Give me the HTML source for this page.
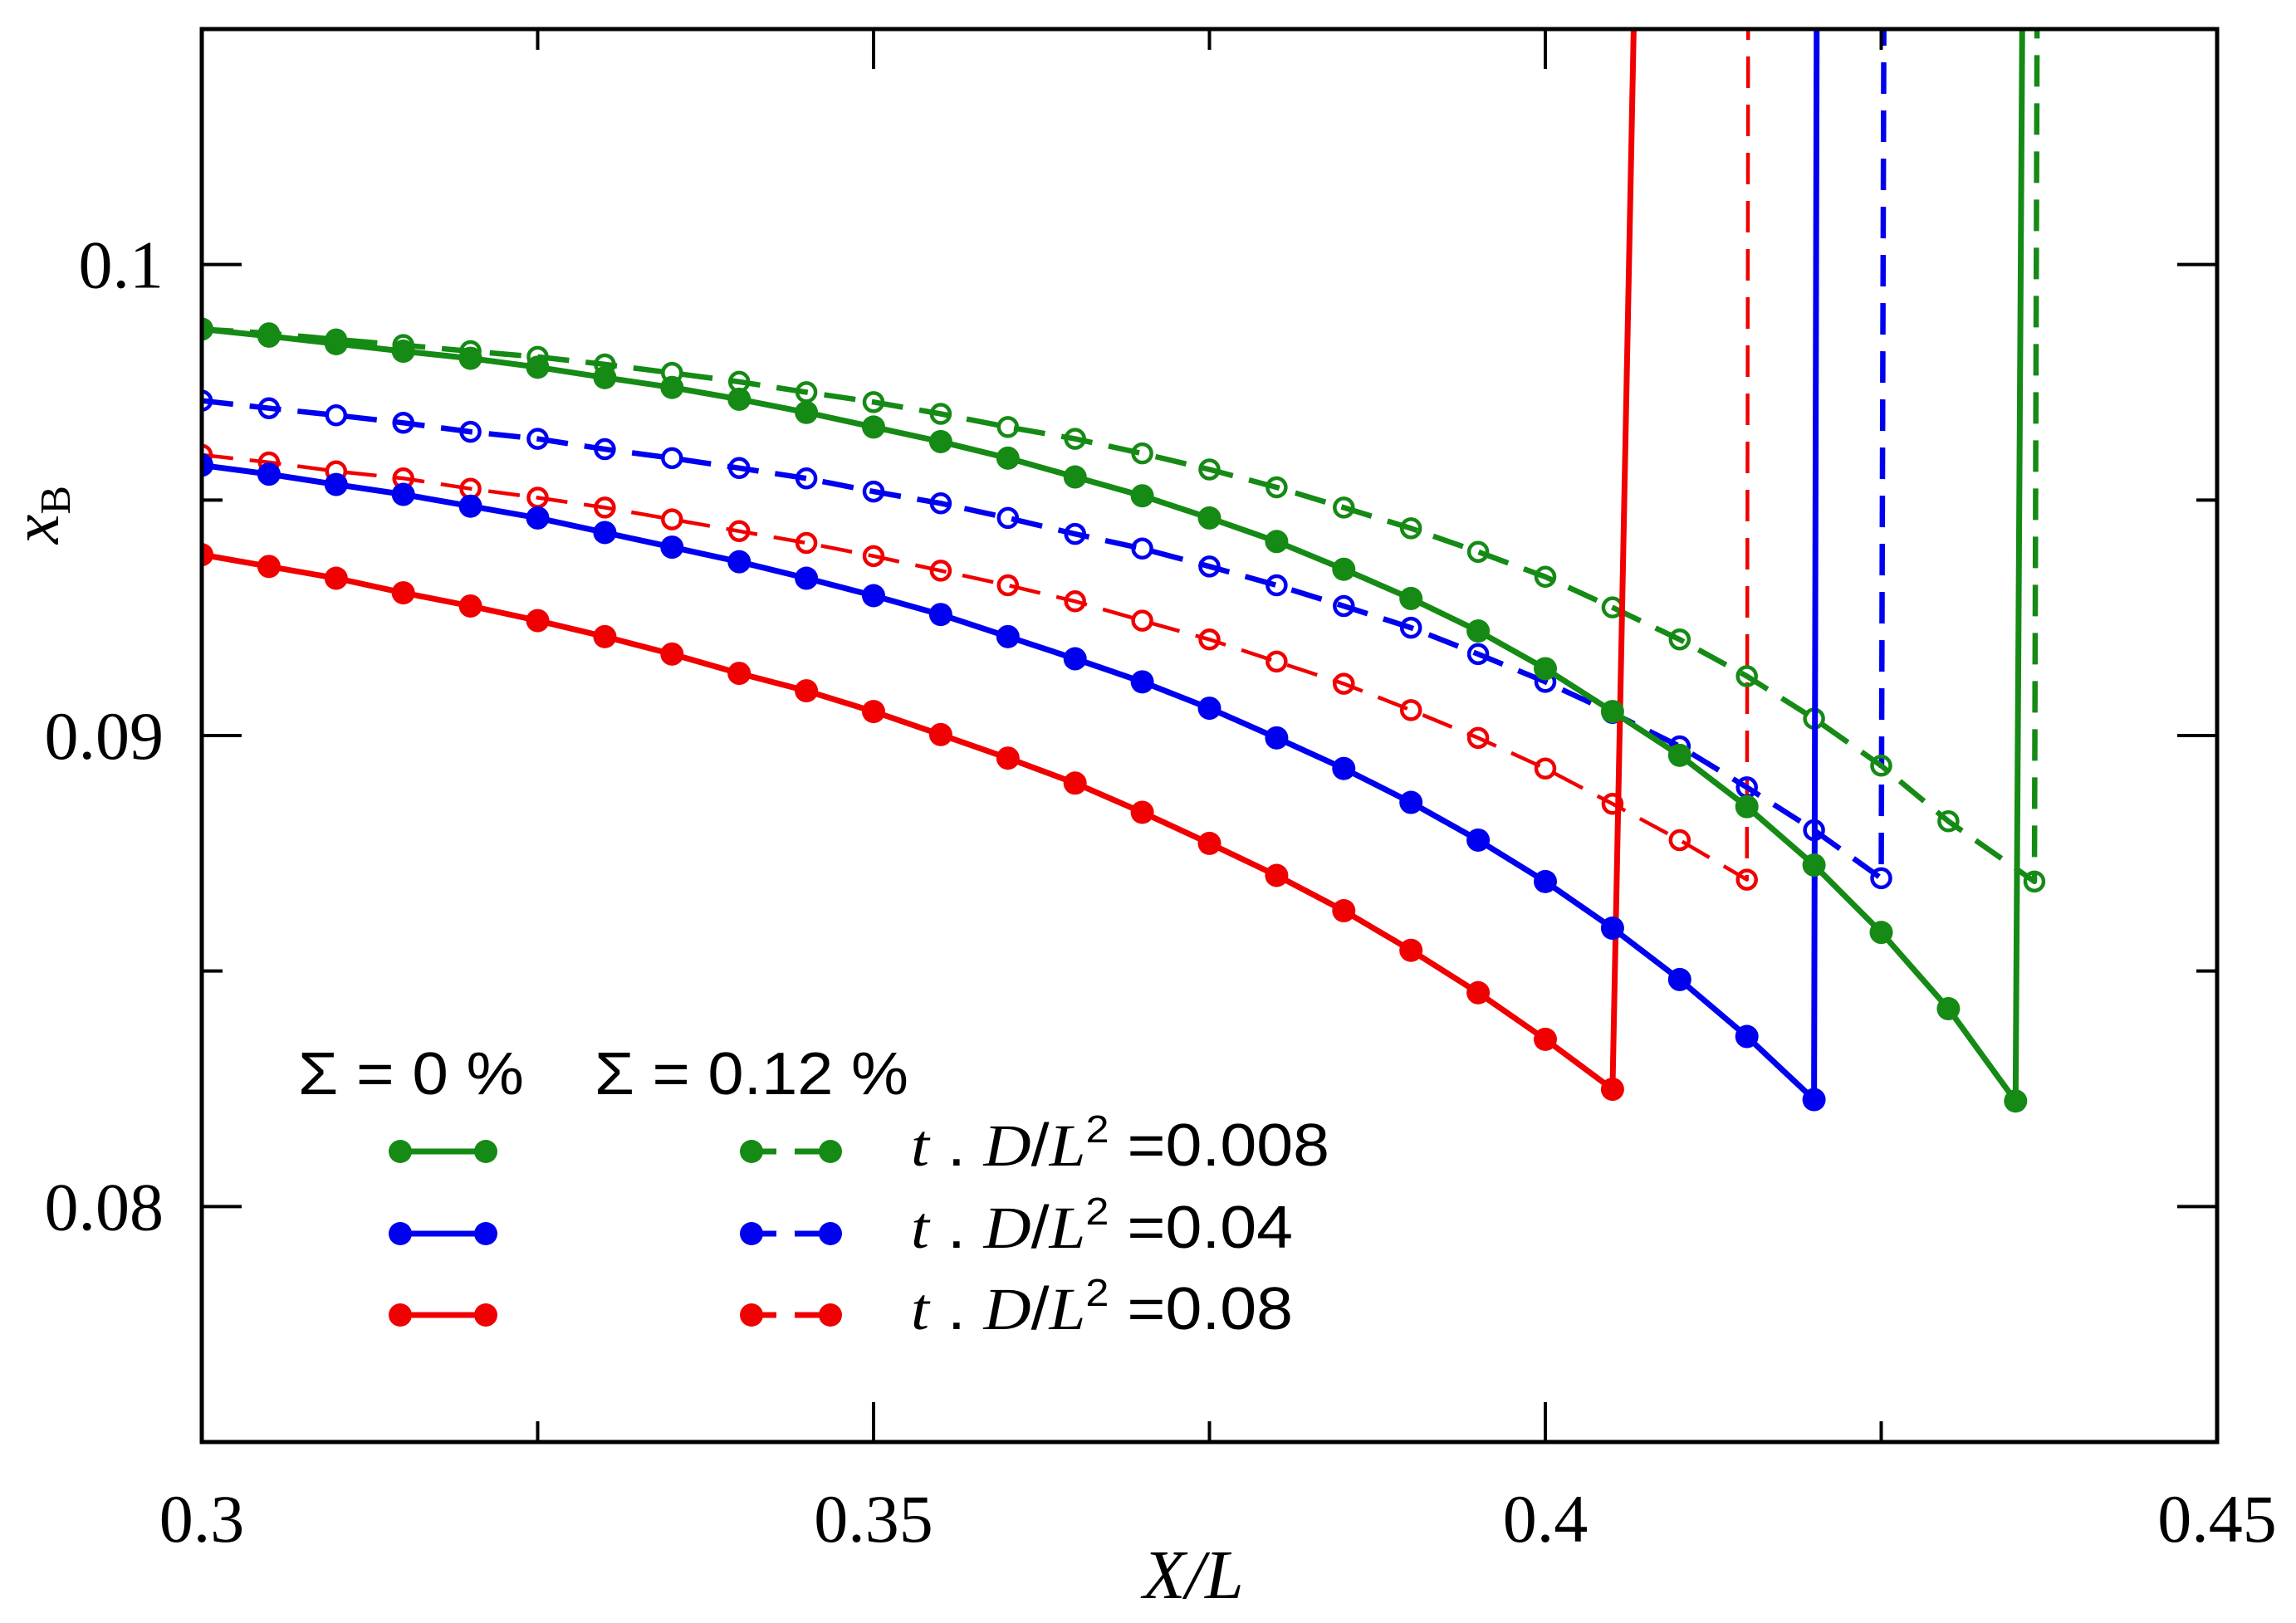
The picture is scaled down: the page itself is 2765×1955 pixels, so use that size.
<!DOCTYPE html>
<html><head><meta charset="utf-8"><style>
html,body{margin:0;padding:0;background:#fff;}
svg{display:block;}
</style></head><body>
<svg id="chart" width="2765" height="1955" viewBox="0 0 2765 1955" xmlns="http://www.w3.org/2000/svg">
<rect width="2765" height="1955" fill="#fff"/>
<g id="series"></g>
<g id="axes"></g>
<g id="legend"></g>
</svg>
<script>
const xTicksMajor = [0.3, 0.35, 0.4, 0.45];
const xTickLabels = ["0.3", "0.35", "0.4", "0.45"];
const xTicksMinor = [0.325, 0.375, 0.425];
const yTicksMajor = [0.08, 0.09, 0.1];
const yTickLabels = ["0.08", "0.09", "0.1"];
const yTicksMinor = [0.075, 0.085, 0.095, 0.105];

const xGreen0 = [0.3,0.305,0.31,0.315,0.32,0.325,0.33,0.335,0.34,0.345,0.35,0.355,0.36,0.365,0.37,0.375,0.38,0.385,0.39,0.395,0.4,0.405,0.41,0.415,0.42,0.425,0.43,0.435];
const yGreen0 = [.09863,.09848,.09832,.09816,.09801,.09782,.09760,.09739,.09714,.09686,.09655,.09624,.09589,.09549,.09509,.09462,.09412,.09353,.09291,.09222,.09142,.09051,.08958,.08849,.08725,.08582,.08420,.08224];
const xGreen12 = [0.3,0.305,0.31,0.315,0.32,0.325,0.33,0.335,0.34,0.345,0.35,0.355,0.36,0.365,0.37,0.375,0.38,0.385,0.39,0.395,0.4,0.405,0.41,0.415,0.42,0.425,0.43,0.4364];
const yGreen12 = [.09863,.09854,.09841,.09829,.09816,.09804,.09788,.09770,.09751,.09729,.09708,.09683,.09655,.09630,.09599,.09565,.09527,.09484,.09440,.09390,.09337,.09272,.09204,.09126,.09036,.08936,.08818,.08690];
const xBlue0 = [0.3,0.305,0.31,0.315,0.32,0.325,0.33,0.335,0.34,0.345,0.35,0.355,0.36,0.365,0.37,0.375,0.38,0.385,0.39,0.395,0.4,0.405,0.41,0.415,0.42];
const yBlue0 = [.09574,.09555,.09533,.09512,.09487,.09462,.09431,.09400,.09369,.09334,.09297,.09257,.09210,.09163,.09114,.09058,.08995,.08930,.08858,.08778,.08690,.08591,.08482,.08361,.08227];
const xBlue12 = [0.3,0.305,0.31,0.315,0.32,0.325,0.33,0.335,0.34,0.345,0.35,0.355,0.36,0.365,0.37,0.375,0.38,0.385,0.39,0.395,0.4,0.405,0.41,0.415,0.42,0.425];
const yBlue12 = [.09711,.09695,.09680,.09664,.09645,.09630,.09608,.09589,.09568,.09546,.09518,.09493,.09462,.09428,.09397,.09359,.09319,.09275,.09229,.09173,.09114,.09048,.08977,.08890,.08799,.08697];
const xRed0 = [0.3,0.305,0.31,0.315,0.32,0.325,0.33,0.335,0.34,0.345,0.35,0.355,0.36,0.365,0.37,0.375,0.38,0.385,0.39,0.395,0.4,0.405];
const yRed0 = [.09384,.09359,.09334,.09303,.09275,.09244,.09210,.09173,.09132,.09095,.09051,.09002,.08952,.08899,.08837,.08771,.08703,.08628,.08544,.08454,.08355,.08249];
const xRed12 = [0.3,0.305,0.31,0.315,0.32,0.325,0.33,0.335,0.34,0.345,0.35,0.355,0.36,0.365,0.37,0.375,0.38,0.385,0.39,0.395,0.4,0.405,0.41,0.415];
const yRed12 = [.09596,.09580,.09561,.09546,.09524,.09505,.09484,.09459,.09434,.09409,.09381,.09350,.09319,.09285,.09244,.09204,.09157,.09110,.09054,.08995,.08930,.08855,.08778,.08694];
const jumpX = {green0:0.4355, green12:0.4366, blue0:0.4202, blue12:0.4252, red0:0.4066, red12:0.4151};

const NS = "http://www.w3.org/2000/svg";
const L = 243, R = 2670, T = 35, B = 1737;
const X0 = 0.3, X1 = 0.45, Y0 = 0.075, Y1 = 0.105;
function sx(v){ return L + (v - X0) / (X1 - X0) * (R - L); }
function sy(v){ return B - (v - Y0) / (Y1 - Y0) * (B - T); }
function mk(tag, attrs, parent){
  const e = document.createElementNS(NS, tag);
  for (const k in attrs) e.setAttribute(k, attrs[k]);
  parent.appendChild(e); return e;
}
const gS = document.getElementById('series');
const gA = document.getElementById('axes');
const gL = document.getElementById('legend');

const defs = mk('defs', {}, gS);
const cp = mk('clipPath', {id:'clip'}, defs);
mk('rect', {x:L, y:T, width:R-L, height:B-T}, cp);

const GREEN = '#158a15', BLUE = '#0000f0', RED = '#f00000';
function drawSeries(name, xs, ys, jx, color, dashed, open, width){
  const g = mk('g', {'clip-path':'url(#clip)'}, gS);
  
  
  let d = '';
  xs.forEach((x,i)=>{ d += (i? 'L':'M') + sx(x).toFixed(1) + ' ' + sy(ys[i]).toFixed(1) + ' '; });
  d += 'L' + sx(jx).toFixed(1) + ' ' + (T - 20);
  const p = mk('path', {d:d, fill:'none', stroke:color, 'stroke-width':width, 'stroke-linejoin':'round'}, g);
  if (dashed) p.setAttribute('stroke-dasharray', '38 20');
  
  
  xs.forEach((x,i)=>{
    const c = open ? mk('circle', {cx:sx(x), cy:sy(ys[i]), r:11, fill:'none', stroke:color, 'stroke-width':4.5}, g)
                   : mk('circle', {cx:sx(x), cy:sy(ys[i]), r:14, fill:color}, g);
    
    
  });
}
drawSeries('red-012', xRed12, yRed12, jumpX.red12, RED, true, true, 4.5);
drawSeries('blue-012', xBlue12, yBlue12, jumpX.blue12, BLUE, true, true, 6.5);
drawSeries('green-012', xGreen12, yGreen12, jumpX.green12, GREEN, true, true, 6.5);
drawSeries('red-0', xRed0, yRed0, jumpX.red0, RED, false, false, 7);
drawSeries('blue-0', xBlue0, yBlue0, jumpX.blue0, BLUE, false, false, 7);
drawSeries('green-0', xGreen0, yGreen0, jumpX.green0, GREEN, false, false, 7);

const fr = mk('rect', {x:L, y:T, width:R-L, height:B-T, fill:'none', stroke:'#000', 'stroke-width':5}, gA);


function tick(x1,y1,x2,y2,name){
  const t = mk('line', {x1:x1,y1:y1,x2:x2,y2:y2,stroke:'#000','stroke-width':4}, gA);
  
  
}
function label(txt, x, y, anchor, name){
  const t = mk('text', {x:x, y:y, 'text-anchor':anchor, 'font-family':'Liberation Serif, serif', 'font-size':82, fill:'#000'}, gA);
  t.textContent = txt;
  
  
}
xTicksMajor.forEach((v,i)=>{
  tick(sx(v), B, sx(v), B-48, 'x-major-tick');
  tick(sx(v), T, sx(v), T+48, 'x-major-tick-top');
  label(xTickLabels[i], sx(v), 1857, 'middle', 'x-tick-label');
});
xTicksMinor.forEach(v=>{
  tick(sx(v), B, sx(v), B-25, 'x-minor-tick');
  tick(sx(v), T, sx(v), T+25, 'x-minor-tick-top');
});
yTicksMajor.forEach((v,i)=>{
  tick(L, sy(v), L+48, sy(v), 'y-major-tick');
  tick(R, sy(v), R-48, sy(v), 'y-major-tick-right');
  label(yTickLabels[i], 197, sy(v)+28, 'end', 'y-tick-label');
});
yTicksMinor.forEach(v=>{
  tick(L, sy(v), L+25, sy(v), 'y-minor-tick');
  tick(R, sy(v), R-25, sy(v), 'y-minor-tick-right');
});
const xt = mk('text', {x:1437, y:1925, 'text-anchor':'middle', 'font-family':'Liberation Serif, serif', 'font-style':'italic', 'font-size':84}, gA);
xt.textContent = 'X/L';


const yt = mk('text', {x:0, y:0, transform:'translate(70,620) rotate(-90)', 'text-anchor':'middle', 'font-family':'Liberation Serif, serif', 'font-size':80}, gA);
yt.innerHTML = '<tspan font-style="italic">x</tspan><tspan font-size="52" dy="14">B</tspan>';



function ltext(html, x, y, w, name){
  const t = mk('text', {x:x, y:y, 'font-family':'Liberation Sans, sans-serif', 'font-size':72, textLength:w, lengthAdjust:'spacingAndGlyphs'}, gL);
  t.innerHTML = html;
  
  
}
ltext('Σ = 0 %', 359, 1318, 272, 'legend-header-sigma-0');
ltext('Σ = 0.12 %', 716, 1318, 378, 'legend-header-sigma-012');
const legY = [1387, 1486, 1584];
const legCol = [GREEN, BLUE, RED];
const legTxt = ['0.008', '0.04', '0.08'];
const legW = [504, 460, 460];
legY.forEach((y,i)=>{
  const g1 = mk('g', {}, gL);
  
  
  mk('line', {x1:482, y1:y, x2:585, y2:y, stroke:legCol[i], 'stroke-width':7}, g1);
  mk('circle', {cx:482, cy:y, r:14, fill:legCol[i]}, g1);
  mk('circle', {cx:585, cy:y, r:14, fill:legCol[i]}, g1);
  const g2 = mk('g', {}, gL);
  
  
  mk('line', {x1:905, y1:y, x2:1000, y2:y, stroke:legCol[i], 'stroke-width':7, 'stroke-dasharray':'30 22'}, g2);
  mk('circle', {cx:905, cy:y, r:14, fill:legCol[i]}, g2);
  mk('circle', {cx:1000, cy:y, r:14, fill:legCol[i]}, g2);
  ltext('<tspan font-family="Liberation Serif, serif" font-style="italic">t</tspan> . <tspan font-family="Liberation Serif, serif" font-style="italic">D</tspan>/<tspan font-family="Liberation Serif, serif" font-style="italic">L</tspan><tspan font-size="46" dy="-28">2</tspan><tspan dy="28"> =' + legTxt[i] + '</tspan>', 1097, y+17, legW[i], 'legend-label');
});
</script>
</body></html>
